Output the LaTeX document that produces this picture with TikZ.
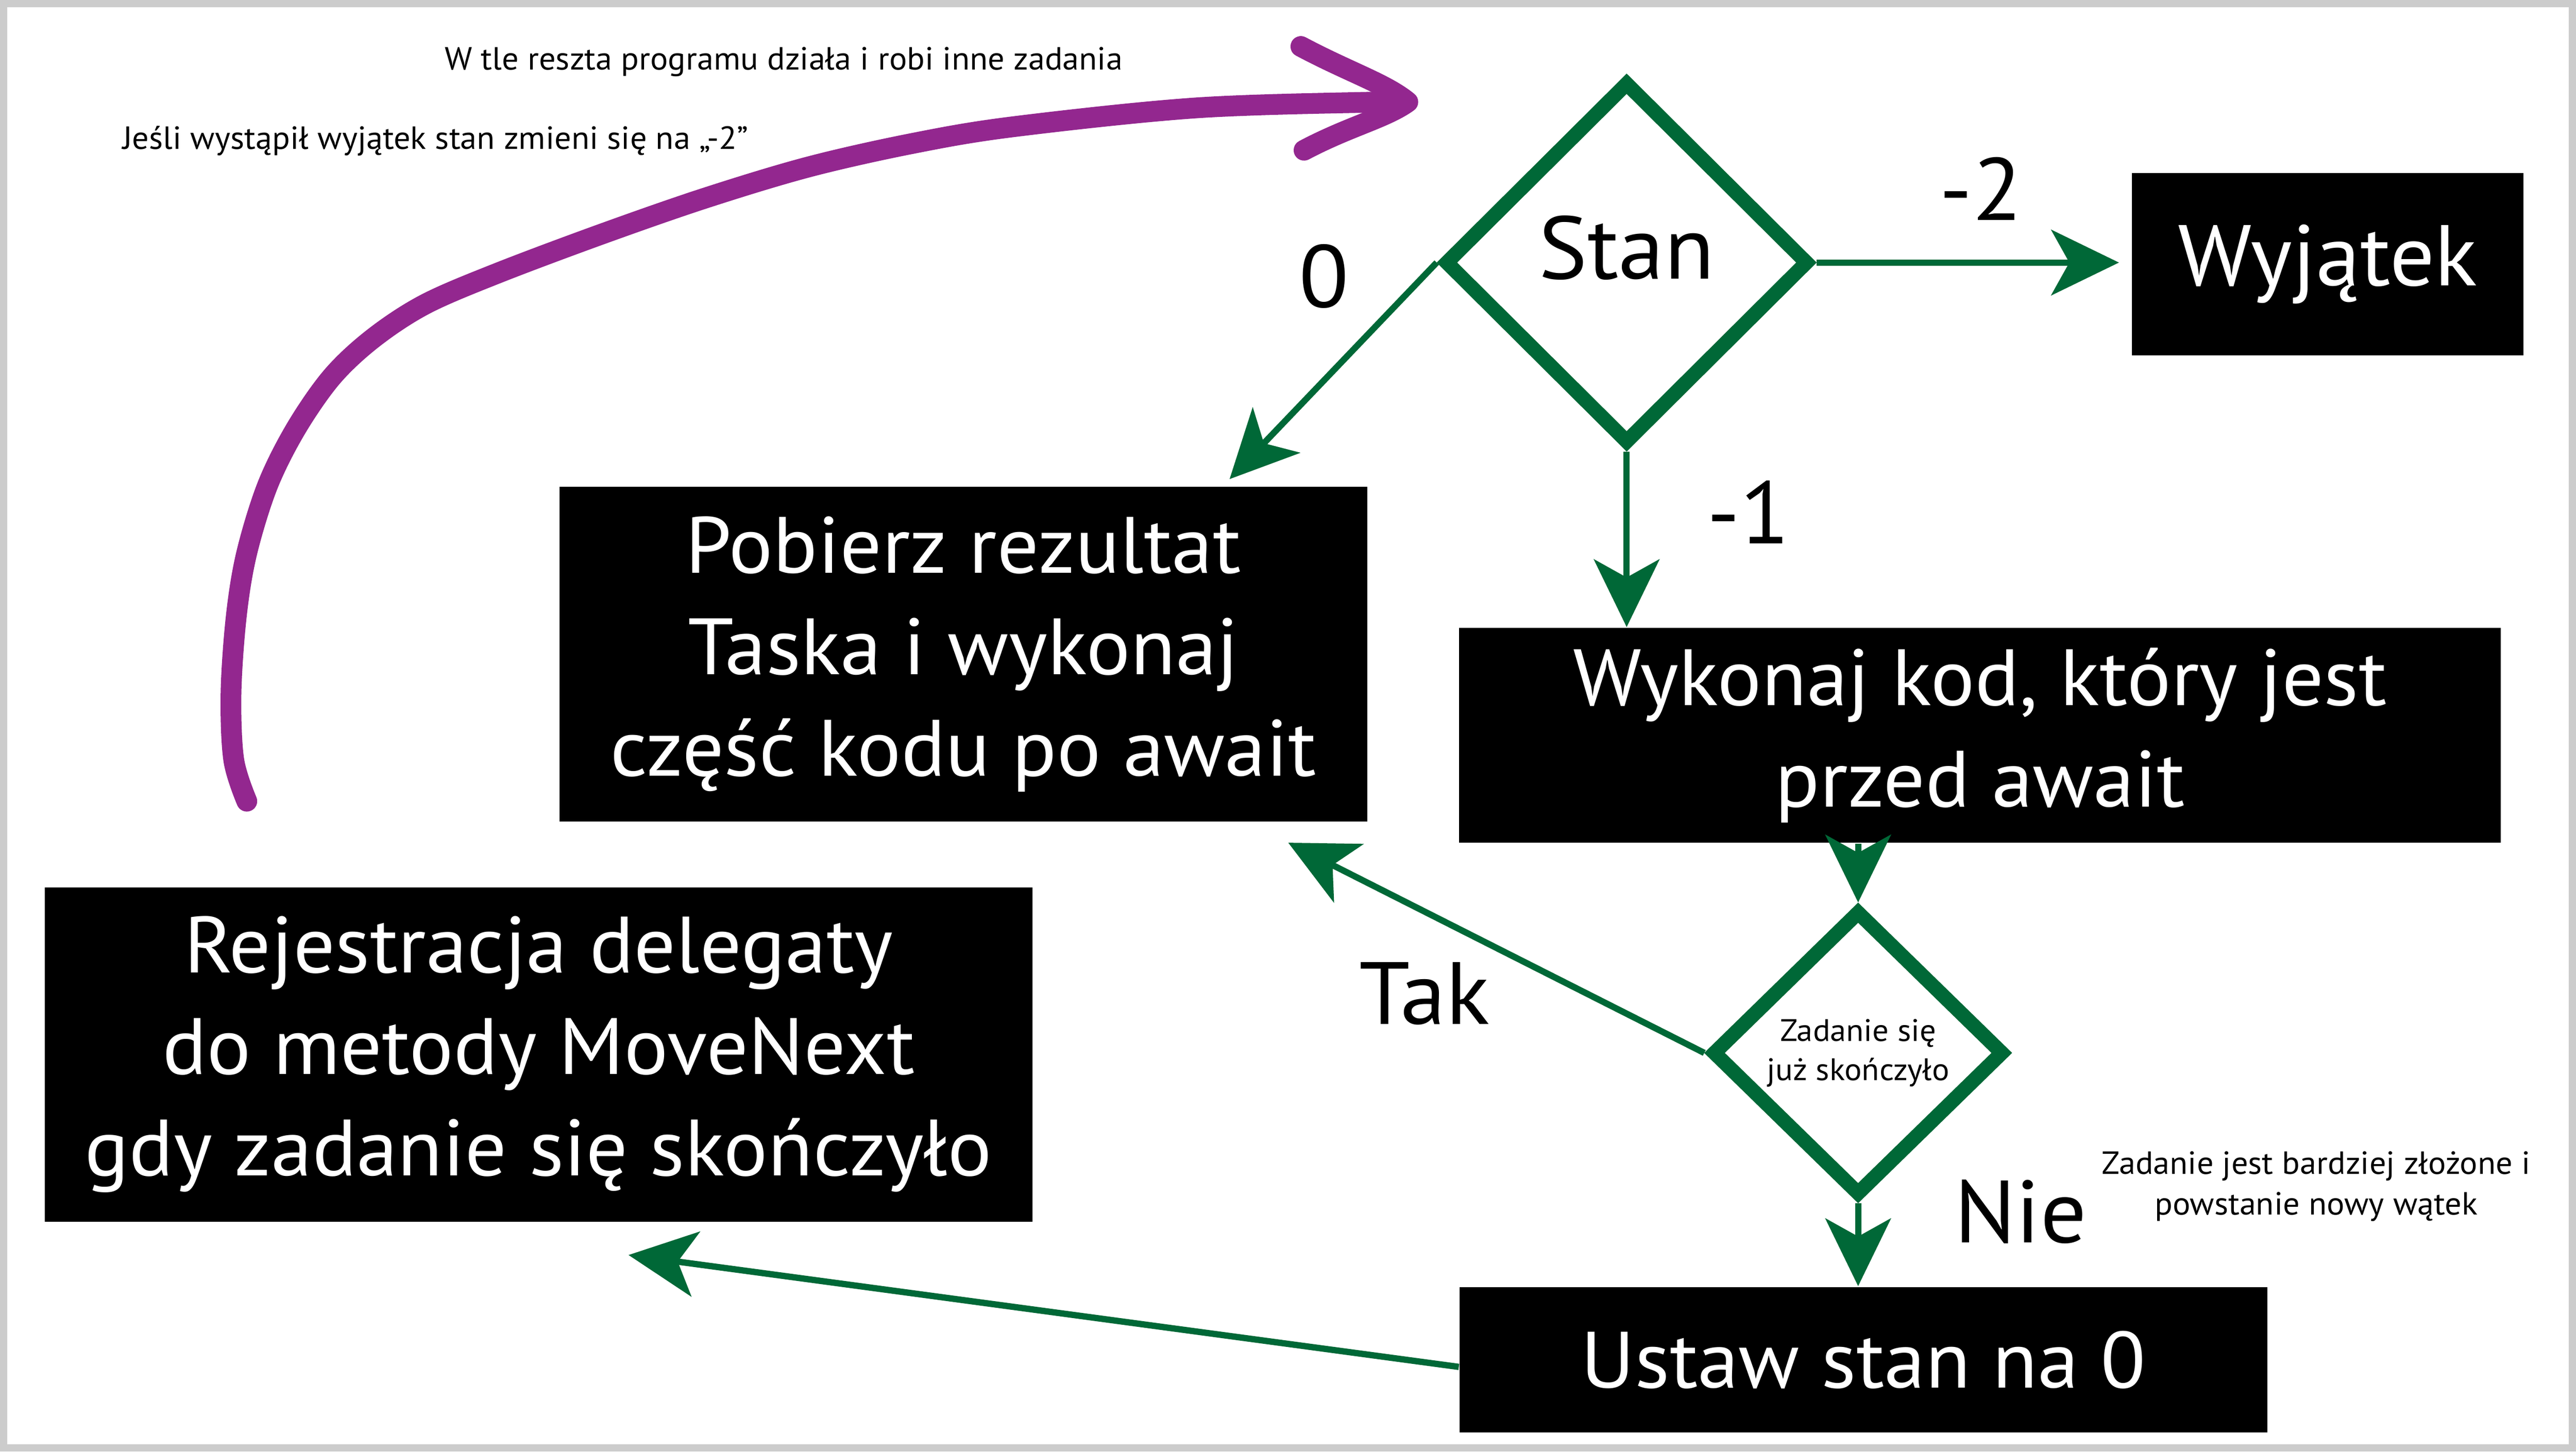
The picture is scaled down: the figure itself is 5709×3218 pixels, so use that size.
\documentclass[tikz,border=0pt]{standalone}
\usepackage{fontspec}
\setmainfont[FakeStretch=1.035]{PT Sans}
\usetikzlibrary{shapes.geometric,arrows.meta,calc}
\definecolor{dgreen}{RGB}{0,104,55}
\definecolor{purp}{RGB}{147,39,143}
\definecolor{framegray}{RGB}{204,204,204}
\begin{document}
\begin{tikzpicture}[x=0.1pt,y=-0.1pt,
  box/.style={fill=black,text=white,inner sep=0pt,align=center,
    font=\fontsize{17.7pt}{22.5pt}\selectfont},
  decision/.style={diamond,draw=dgreen,line width=3.2pt,inner sep=0pt,aspect=1,align=center},
  conn/.style={draw=dgreen,line width=1.4pt,-{Stealth[length=15pt,width=14.5pt,inset=4pt]}},
  lbl/.style={font=\fontsize{19.6pt}{23pt}\selectfont,inner sep=0pt},
  note/.style={font=\fontsize{7.1pt}{9pt}\selectfont,inner sep=0pt,align=center},
  purpline/.style={draw=purp,line width=4.6pt,line cap=round,line join=round}]
\useasboundingbox (0,0) rectangle (5709,3218);
\fill[framegray] (0,0) rectangle (5709,3218);
\fill[white] (16,16) rectangle (5693,3202);

% boxes
\node[box,minimum width=86.8pt,minimum height=40.4pt] (wyj) at (5159,586)
  {\fontsize{19.1pt}{23pt}\selectfont Wyjątek};
\node[box,minimum width=179pt,minimum height=74.2pt] (pob) at (2135,1450)
  {Pobierz rezultat\\Taska i wykonaj\\część kodu po await};
\node[box,minimum width=230.8pt,minimum height=47.6pt] (wyk) at (4388,1630)
  {Wykonaj kod, który jest\\przed await};
\node[box,minimum width=218.9pt,minimum height=74.1pt] (rej) at (1193.5,2337.5)
  {Rejestracja delegaty\\do metody MoveNext\\gdy zadanie się skończyło};
\node[box,minimum width=179pt,minimum height=32.2pt] (ust) at (4130,3014)
  {Ustaw stan na 0};

% decisions
\node[decision,minimum width=81pt,minimum height=80.6pt,
  font=\fontsize{19.7pt}{23pt}\selectfont,text depth=6.8pt] (stan) at (3605,582) {Stan};
\node[decision,minimum width=65pt,minimum height=63.5pt,
  font=\fontsize{6.9pt}{8.7pt}\selectfont] (zad) at (4118,2334)
  {Zadanie się\\już skończyło};

% free ends
\coordinate (t0) at (2725,1062);
\coordinate (t1) at (2855,1868);
\coordinate (t2) at (1393,2782);

% connectors
\draw[conn] (stan.west) -- (t0);
\draw[conn,shorten >=2.7pt] (stan.east) -- (stan.east -| wyj.west);
\draw[conn] (stan.south) -- (stan.south |- wyk.north);
\draw[conn] (zad.north |- wyk.south) -- (zad.north);
\draw[conn] (zad.west) -- (t1);
\draw[conn] (zad.south) -- (zad.south |- ust.north);
\draw[conn] ($(ust.west)+(0,16)$) -- (t2);

% labels
\node[lbl] (l0) at (2934,613) {0};
\node[lbl] (l1) at (3875,1135) {-1};
\node[lbl] (l2) at (4390,418) {-2};
\node[lbl] (ltak) at (3157,2203) {Tak};
\node[lbl] (lnie) at (4478,2686) {Nie};

% notes
\node[note,anchor=base] (n1) at (1737,155) {W tle reszta programu działa i robi inne zadania};
\node[note,anchor=base] (n2) at (965,330) {Jeśli wystąpił wyjątek stan zmieni się na „-2”};
\node[note] (n3) at (5133,2630) {Zadanie jest bardziej złożone i\\powstanie nowy wątek};

% purple loop arrow
\draw[purpline] plot[smooth,tension=0.55] coordinates {(547,1776) (518,1684) (512,1535)
  (524,1363) (547,1225) (593,1076) (656,950) (736,835) (828,749) (943,674) (1104,605)
  (1333,519) (1563,439) (1792,370) (2022,318) (2245,281) (2653,239) (3061,226) (3115,226)};
\draw[purpline] (2883,103) .. controls (2990,160) and (3070,185) .. (3120,226)
  .. controls (3070,262) and (2990,280) .. (2890,333);
\end{tikzpicture}
\end{document}
